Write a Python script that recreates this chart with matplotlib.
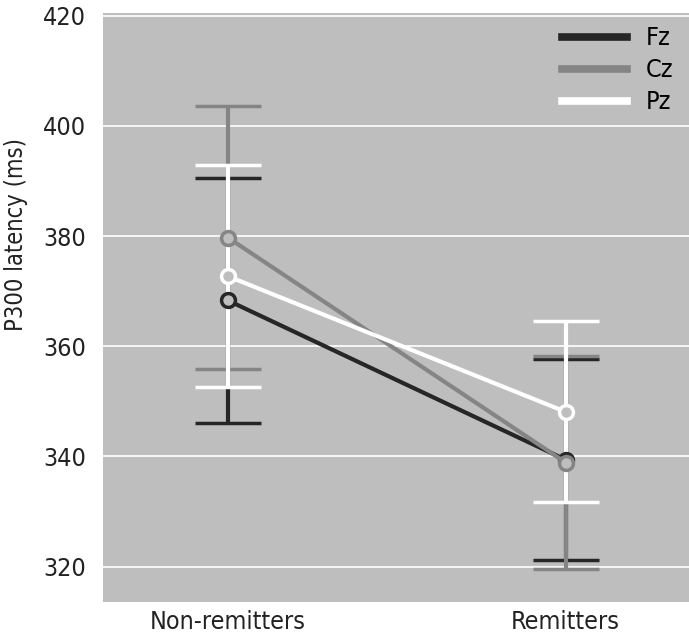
import matplotlib
matplotlib.use("Agg")
import matplotlib.pyplot as plt

groups = ["Non-remitters", "Remitters"]
channels = ["Fz", "Cz", "Pz"]
means = {
    "Fz": [368.3, 339.4],
    "Cz": [379.7, 338.9],
    "Pz": [372.7, 348.1],
}
errors = {
    "Fz": [22.3, 18.2],
    "Cz": [23.8, 19.4],
    "Pz": [20.1, 16.4],
}
colors = {"Fz": "#262626", "Cz": "#858585", "Pz": "#ffffff"}
yticks = [320, 340, 360, 380, 400, 420]

bg = "#bebebe"
plt.rcParams['font.family'] = ['DejaVu Sans']
plt.rcParams['font.stretch'] = 'condensed'

fig = plt.figure(figsize=(6.89, 6.35), dpi=100)
ax = fig.add_axes([0.1495, 0.052, 0.8505, 0.927])
ax.set_facecolor(bg)

x = list(range(len(groups)))
for ch in channels:
    ax.errorbar(x, means[ch], yerr=errors[ch], color=colors[ch], lw=3,
                elinewidth=3, capsize=24, capthick=3,
                marker="o", markersize=10, markeredgewidth=2.5,
                markerfacecolor=bg, markeredgecolor=colors[ch], label=ch)

ax.set_xlim(-0.37, 1.365)
ax.set_ylim(313.6, 420.4)
ax.set_yticks(yticks)
ax.set_xticks(x)
ax.set_xticklabels(groups)
ax.yaxis.grid(True, color="white", lw=1.2)
ax.set_axisbelow(True)
ax.tick_params(length=0, labelsize=18, colors="#222222")
ax.tick_params(axis="y", pad=12)
ax.tick_params(axis="x", pad=6)
for s in ax.spines.values():
    s.set_visible(False)
ax.set_ylabel("P300 latency (ms)", fontsize=17, color="#222222")
ax.yaxis.set_label_coords(-0.128, 0.625)

handles = [plt.Line2D([], [], color=colors[ch], lw=5.5) for ch in channels]
ax.legend(handles, channels, loc="upper right", frameon=False, fontsize=18,
          handlelength=2.6, handletextpad=0.75, labelspacing=0.32,
          borderaxespad=0.0, bbox_to_anchor=(0.99, 0.995))

fig.savefig("out.png", dpi=100)
